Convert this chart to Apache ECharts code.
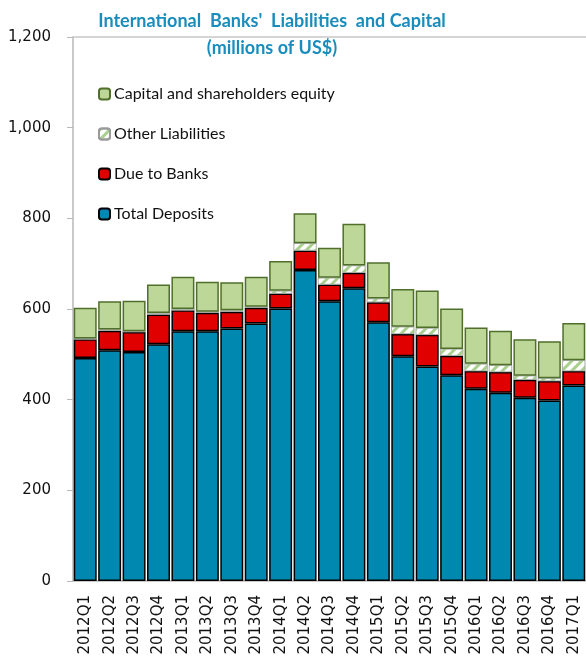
<!DOCTYPE html>
<html>
<head>
<meta charset="utf-8">
<script src="https://cdn.jsdelivr.net/npm/echarts@6/dist/echarts.min.js"></script>
<style>
html,body{margin:0;padding:0;background:#fff;}
#chart{width:586px;height:658px;}
</style>
</head>
<body>
<div id="chart"></div>
<script>
const categories = ['2012Q1','2012Q2','2012Q3','2012Q4','2013Q1','2013Q2','2013Q3','2013Q4','2014Q1','2014Q2','2014Q3','2014Q4','2015Q1','2015Q2','2015Q3','2015Q4','2016Q1','2016Q2','2016Q3','2016Q4','2017Q1'];
const totalDeposits = [492,509,505,522,551,551,557,568,601,686,617,646,571,496,473,454,424,415,404,398,431];
const dueToBanks = [41,43,44,66,46,41,37,35,33,43,37,34,44,49,70,43,39,46,40,43,32];
const otherLiabilities = [2,3,2,3,3,2,3,2,6,16,15,16,8,16,15,15,16,15,9,6,24];
const capitalEquity = [68,62,67,63,71,66,62,66,66,66,66,92,80,83,83,89,80,76,80,82,82];
const yMin = 0, yMax = 1200, yStep = 200;

const chart = echarts.init(document.getElementById('chart'), null, {renderer:'canvas'});
const barBase = {type:'bar', stack:'total', barCategoryGap:'6%', xAxisIndex:0, yAxisIndex:0};
chart.setOption({
  animation:false,
  backgroundColor:'#ffffff',
  title:{
    text:"International  Banks'  Liabilities  and Capital\n(millions of US$)",
    left:267, top:3, textAlign:'center',
    textStyle:{fontFamily:'Lato', fontWeight:'bold', fontSize:18, color:'#1a8dbd', lineHeight:27}
  },
  legend:{
    orient:'vertical', left:93, top:81,
    itemWidth:11, itemHeight:11, itemGap:24,
    textStyle:{fontFamily:'Lato', fontSize:16, color:'#111', lineHeight:16, padding:[0,0,0,-1]},
    data:['Capital and shareholders equity','Other Liabilities','Due to Banks','Total Deposits']
  },
  grid:{left:73, right:-2, top:37, bottom:77, containLabel:false},
  xAxis:[{
    type:'category', data:categories, position:'bottom',
    axisLine:{lineStyle:{color:'#b8b8b8', width:1.5}},
    axisTick:{show:false},
    axisLabel:{rotate:90, margin:14, fontFamily:'DejaVu Sans', fontSize:15, color:'#111', interval:0}
  },{
    type:'category', data:categories, position:'top',
    axisLine:{show:true, lineStyle:{color:'#c8c8c8', width:1.5}},
    axisTick:{show:false}, axisLabel:{show:false}
  }],
  yAxis:{
    type:'value', min:yMin, max:yMax, interval:yStep,
    axisLine:{show:true, lineStyle:{color:'#b8b8b8', width:1.5}},
    axisTick:{show:true, length:6, lineStyle:{color:'#b8b8b8'}},
    splitLine:{show:false},
    axisLabel:{margin:22, fontFamily:'DejaVu Sans', fontSize:15, color:'#111',
      formatter:v=>v.toLocaleString('en-US')}
  },
  series:[
    Object.assign({}, barBase, {name:'Total Deposits', data:totalDeposits,
      itemStyle:{color:'#0088b0', borderColor:'#000', borderWidth:1.5}}),
    Object.assign({}, barBase, {name:'Due to Banks', data:dueToBanks,
      itemStyle:{color:'#e00000', borderColor:'#000', borderWidth:1.5}}),
    Object.assign({}, barBase, {name:'Other Liabilities', data:otherLiabilities,
      itemStyle:{color:'#ffffff', borderColor:'#9a9a9a', borderWidth:0.5,
        decal:{symbol:'rect', dashArrayX:[1,0], dashArrayY:[3,4], rotation:-Math.PI/4, color:'#a9d08e'}}}),
    Object.assign({}, barBase, {name:'Capital and shareholders equity', data:capitalEquity,
      itemStyle:{color:'#bdd799', borderColor:'#4f6f2a', borderWidth:1.5}})
  ]
});
</script>
</body>
</html>
